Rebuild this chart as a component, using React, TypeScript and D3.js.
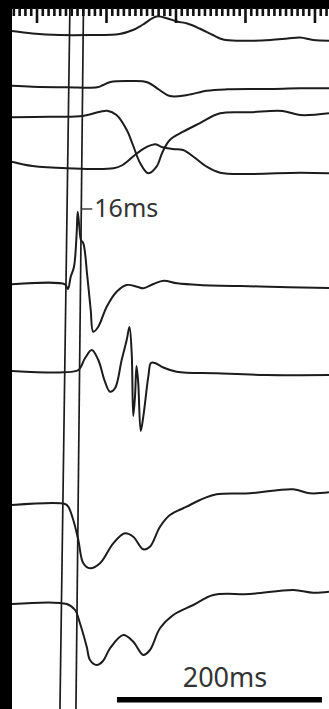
import React from "react";
import * as d3 from "d3";

const W = 329;
const H = 709;

type Pt = [number, number]; // [time ms, amplitude mV]

// Eight recording channels, top to bottom
const ch1: Pt[] = [
  [0, 0.4], [20, 0.15], [47, 0], [76, 0], [105, 0.1], [118, 0.5], [127, 1.0],
  [141, 1.85], [151, 1.68], [161, 1.35], [171, 1.15], [183, 0.65], [196, 0.0],
  [206, -0.45], [222, -0.58], [252, -0.5], [269, -0.35], [281, -0.25],
  [294, -0.5], [309.3, -0.57],
];
const ch2: Pt[] = [
  [0, 0.13], [20, 0.03], [54, -0.03], [83, -0.03], [89, 0.2], [96, 0.5],
  [118, 0.6], [132, 0.47], [144, -0.3], [154, -0.9], [171, -0.8], [190, -0.37],
  [210, -0.23], [249, -0.2], [281, -0.13], [309.3, -0.13],
];
const ch3: Pt[] = [
  [0, -0.03], [37, 0.03], [69, 0.1], [86, 0.53], [93, 0.63], [102, 0.2],
  [112, -1.3], [118, -2.8], [125, -4.6], [133, -5.63], [141, -4.97],
  [147, -3.47], [154, -2.3], [167, -1.47], [183, -0.63], [203, 0.37],
  [232, 0.47], [264, 0.6], [281, 0.2], [309.3, 0.37],
];
const ch4: Pt[] = [
  [0, 0.63], [20, 0.2], [54, -0.03], [99, -0.03], [108, 0.3], [122, 1.47],
  [132, 2.13], [140, 2.37], [147, 2.07], [157, 1.9], [167, 1.8], [177, 1.13],
  [190, 0.13], [203, -0.47], [232, -0.6], [281, -0.47], [309.3, -0.53],
];
const ch5: Pt[] = [
  [0, 0.07], [51.7, 0.07], [54.6, -0.4], [57.3, 0.83], [60.5, 1.83],
  [63.1, 5.2], [64.1, 7.33], [65.7, 5.83], [67.3, 4.5], [69.6, 4.17],
  [73.5, 0.83], [76.8, -2.5], [79.3, -4.67], [84.2, -4.17], [92.4, -2.17],
  [102.1, -0.67], [112, 0], [122, -0.17], [128, -0.33], [138, 0.1],
  [148, 0.43], [161, 0.17], [183, 0], [242, -0.15], [309.3, -0.3],
];
const ch6: Pt[] = [
  [0, 0], [50, -0.13], [64.7, 0.1], [71.2, 1.27], [77.8, 2.1], [84.2, 1.1],
  [90.7, -1.07], [95.6, -2.07], [100.5, -1.73], [107, 1.1], [111.9, 3.1],
  [114.6, 4.4], [116.8, 1.77], [118.3, -4.5], [120, -2.57], [121.5, 0.5],
  [123.2, -1.23], [125.6, -6.0], [128.1, -4.57], [133, -0.57], [135.6, 0.8],
  [139.5, 0.8], [147.6, 0.35], [160.7, -0.07], [199.7, -0.23],
  [248.5, -0.4], [309.3, -0.4],
];
const ch7: Pt[] = [
  [0, 0], [51.7, 0.1], [54.9, -0.17], [59.8, -1.5], [64.7, -3.5],
  [69.6, -5.83], [76.1, -6.33], [85.9, -5.83], [98.8, -3.83], [110.2, -2.83],
  [118.3, -3.17], [128.1, -4.43], [134.6, -4.17], [144.4, -2.17],
  [154.1, -1.0], [170.4, -0.17], [183.4, 0.5], [199.7, 1.07], [232.2, 1.17],
  [274.4, 1.57], [290.7, 1.17], [309.3, 1.27],
];
const ch8: Pt[] = [
  [0, 0], [53.4, 0], [61.5, -0.6], [66.3, -1.93], [72.9, -4.27],
  [76.1, -5.6], [82.6, -6.1], [88.8, -5.7], [95.6, -4.43], [108.6, -3.1],
  [118.3, -3.77], [128.1, -5.1], [134.6, -4.6], [144.4, -2.43],
  [157.4, -1.1], [176.9, -0.1], [196.4, 0.9], [232.2, 1.0], [274.4, 1.4],
  [293.9, 1.13], [309.3, 1.23],
];

const channels = [ch1, ch2, ch3, ch4, ch5, ch6, ch7, ch8];
// vertical position of each channel's zero line
const baselines = [35, 87, 117, 168, 285, 371, 505, 604];

// measurement cursors (time at top edge and bottom edge of the sheet)
const cursorTop = [56.6, 69.8];
const cursorBottom = [46.8, 62.4];
const intervalLabel = "16ms";

// time ruler: minor step in ms, one long tick every 12 steps
const rulerOrigin = 24.4;
const rulerStep = 5.65;
const rulerMajorEvery = 12;

const scaleBarStart = 102.4;
const scaleBarMs = 200;
const scaleBarLabel = "200ms";

const x = d3.scaleLinear().domain([0, 309.3]).range([12, 329]);
const amp = d3.scaleLinear().domain([0, 1]).range([0, -10]);

export default function App() {
  const lineFor = (base: number) =>
    d3
      .line<Pt>()
      .x((d) => x(d[0]))
      .y((d) => base + amp(d[1]))
      .curve(d3.curveCatmullRom.alpha(0.5));

  const ticks: { t: number; major: boolean }[] = [];
  for (let i = -4; ; i++) {
    const t = rulerOrigin + i * rulerStep;
    if (x(t) > W + 2) break;
    ticks.push({ t, major: i % rulerMajorEvery === 0 });
  }

  const fy = 209;
  const fx = (k: number) =>
    x(cursorTop[k] + (cursorBottom[k] - cursorTop[k]) * (fy / H));

  return (
    <svg
      width={W}
      height={H}
      style={{ position: "absolute", left: 0, top: 0, background: "#fff" }}
    >
      <rect width={W} height={H} fill="#fff" />
      {channels.map((c, i) => (
        <path
          key={i}
          d={lineFor(baselines[i])(c) || ""}
          fill="none"
          stroke="#1c1c1c"
          strokeWidth={2}
          strokeLinejoin="round"
        />
      ))}
      {cursorTop.map((t, i) => (
        <line
          key={i}
          x1={x(t)}
          y1={0}
          x2={x(cursorBottom[i])}
          y2={H}
          stroke="#1c1c1c"
          strokeWidth={1.7}
        />
      ))}
      {/* interval marker */}
      <line x1={fx(1)} y1={fy} x2={fx(1) + 11} y2={fy} stroke="#333" strokeWidth={1.4} />
      <text
        x={fx(1) + 13}
        y={217}
        fontFamily="'Noto Sans', sans-serif"
        fontSize={25}
        fill="#333"
      >
        {intervalLabel}
      </text>
      {/* ruler */}
      <rect x={0} y={0} width={W} height={9} fill="#000" />
      {ticks.map((d, i) => (
        <rect
          key={i}
          x={x(d.t) - 1.3}
          y={8}
          width={2.6}
          height={d.major ? 15 : 8}
          fill="#111"
        />
      ))}
      <rect x={0} y={0} width={12} height={H} fill="#000" />
      {/* scale bar */}
      <rect
        x={x(scaleBarStart)}
        y={697}
        width={x(scaleBarStart + scaleBarMs) - x(scaleBarStart)}
        height={5.5}
        fill="#000"
      />
      <text
        x={225}
        y={687}
        textAnchor="middle"
        fontFamily="'Noto Sans', sans-serif"
        fontSize={27}
        fill="#333"
      >
        {scaleBarLabel}
      </text>
    </svg>
  );
}
